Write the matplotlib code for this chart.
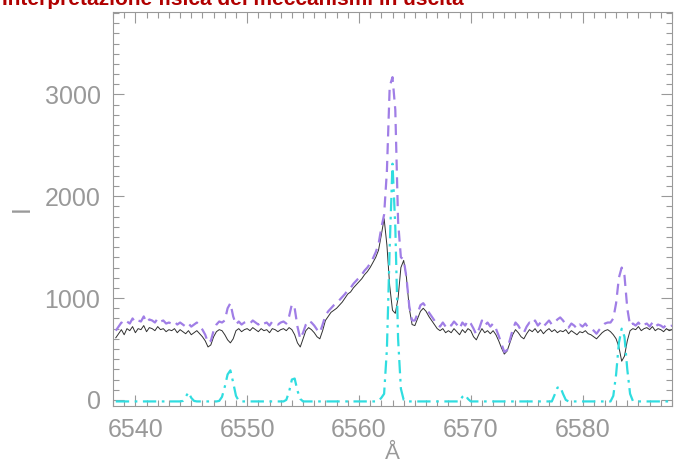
import numpy as np
import matplotlib.pyplot as plt
from matplotlib.ticker import MultipleLocator

# wavelength sampling of the spectrum (0.25 A steps)
wave = np.arange(6538.25, 6588.01, 0.25)

observed = [
    610, 650, 690, 640, 700, 680, 720, 660, 700, 690, 730, 670, 710, 700, 680, 720, 690, 700, 670, 690,
    680, 700, 660, 690, 670, 650, 680, 640, 660, 680, 650, 620, 580, 520, 540, 620, 670, 690, 680, 640,
    590, 560, 600, 680, 700, 670, 690, 700, 680, 710, 690, 670, 700, 680, 690, 660, 700, 690, 670, 690,
    700, 680, 710, 690, 640, 560, 520, 600, 680, 710, 690, 660, 620, 600, 680, 780, 820, 860, 880, 900,
    930, 960, 1000, 1040, 1060, 1100, 1130, 1160, 1190, 1230, 1260, 1300, 1350, 1400, 1470, 1620, 1780, 1520, 1120, 880,
    850, 1000, 1300, 1370, 1200, 900, 740, 730, 800, 870, 900, 870, 820, 780, 740, 700, 680, 700, 660, 680,
    660, 700, 670, 640, 690, 660, 700, 680, 620, 590, 650, 700, 660, 680, 650, 680, 640, 580, 510, 450,
    480, 560, 640, 690, 660, 620, 600, 650, 690, 670, 700, 660, 690, 650, 680, 700, 670, 690, 660, 680,
    670, 690, 650, 680, 660, 640, 670, 660, 680, 650, 640, 620, 600, 630, 660, 680, 690, 670, 640, 600,
    520, 380, 430, 580, 680, 700, 690, 720, 680, 700, 710, 690, 720, 680, 700, 690, 670, 700, 680, 690,
]

model = [
    680, 720, 760, 740, 770, 750, 800, 760, 780, 770, 820, 760, 790, 780, 760, 800, 770, 780, 750, 760,
    750, 770, 740, 760, 740, 720, 750, 720, 740, 760, 720, 690, 640, 560, 580, 680, 740, 770, 760, 780,
    900, 950, 820, 740, 770, 740, 760, 770, 750, 780, 760, 740, 770, 750, 760, 730, 770, 760, 740, 760,
    770, 750, 820, 940, 900, 720, 600, 660, 740, 780, 760, 730, 690, 660, 740, 830, 870, 900, 930, 950,
    980, 1010, 1040, 1080, 1100, 1140, 1170, 1200, 1230, 1270, 1300, 1340, 1390, 1450, 1530, 1690, 1820, 2250, 3080, 3170,
    2850, 1750, 1400, 1380, 1200, 920, 780, 780, 850, 930, 950, 910, 860, 820, 780, 740, 720, 760, 720, 750,
    730, 770, 740, 700, 760, 730, 780, 750, 700, 640, 700, 780, 730, 760, 720, 750, 700, 630, 550, 470,
    490, 590, 690, 760, 730, 680, 660, 720, 760, 740, 780, 730, 760, 720, 750, 780, 740, 760, 790, 810,
    780, 740, 710, 750, 730, 700, 740, 720, 750, 710, 700, 680, 650, 690, 720, 750, 760, 760, 800, 950,
    1200, 1300, 1220, 900, 730, 750, 730, 760, 720, 740, 750, 720, 760, 720, 740, 730, 710, 740, 720, 730,
]

emission = [
    -15, -15, -15, -15, -15, -15, -15, -15, -15, -15, -15, -15, -15, -15, -15, -15, -15, -15, -15, -15,
    -15, -15, -15, -15, -10, 30, 75, 20, -10, -15, -15, -15, -15, -15, -15, -15, -15, -10, 30, 130,
    250, 290, 170, 40, -10, -15, -15, -15, -15, -15, -15, -15, -15, -15, -15, -15, -15, -15, -15, -15,
    -15, 0, 80, 200, 210, 90, 10, -15, -15, -15, -15, -15, -15, -15, -15, -15, -15, -15, -15, -15,
    -15, -15, -15, -15, -15, -15, -15, -15, -15, -15, -15, -15, -15, -15, -10, 20, 60, 500, 1500, 2320,
    1700, 600, 110, 0, -15, -15, -15, -15, -15, -15, -15, -15, -15, -15, -15, -15, -15, -15, -15, -15,
    -15, -15, -15, -15, 30, 50, 10, -15, -15, -15, -15, -15, -15, -15, -15, -15, -15, -15, -15, -15,
    -15, -15, -15, -15, -15, -15, -15, -15, -15, -15, -15, -15, -15, -15, -15, -15, -15, 50, 120, 130,
    60, 0, -15, -15, -15, -15, -15, -15, -15, -15, -15, -15, -15, -15, -15, -15, -15, -15, 40, 250,
    560, 700, 620, 300, 60, -10, -15, -15, -15, -15, -15, -15, -15, -15, -15, -15, -15, -15, -15, -15,
]

grey = '#999999'
plt.rcParams['font.family'] = ['Liberation Sans', 'DejaVu Sans']

fig = plt.figure(figsize=(6.78, 4.65), dpi=100)
ax = fig.add_axes([113 / 678, 1 - 405.5 / 465, (672 - 113) / 678, (405.5 - 12) / 465])

ax.plot(wave, observed, color='#303030', lw=0.7)
ax.plot(wave, model, color='#a07ee6', lw=1.6, ls=(0, (5, 3)))
ax.plot(wave, emission, color='#30dde0', lw=1.6, ls=(0, (6, 2.5, 1.2, 2.5)))

ax.set_xlim(6538, 6588)
ax.set_ylim(-55, 3810)
ax.xaxis.set_major_locator(MultipleLocator(10))
ax.xaxis.set_minor_locator(MultipleLocator(1))
ax.yaxis.set_major_locator(MultipleLocator(1000))
ax.yaxis.set_minor_locator(MultipleLocator(100))
ax.tick_params(which='both', direction='in', top=True, right=True,
               color=grey, labelcolor=grey, labelsize=18, width=0.8)
ax.tick_params(which='major', length=8, pad=9)
ax.tick_params(which='minor', length=4)
for s in ax.spines.values():
    s.set_color(grey)
    s.set_linewidth(0.8)

ax.set_xlabel('Å', color=grey, fontsize=16, labelpad=1)
ax.set_ylabel('I', color=grey, fontsize=18, labelpad=8)

# title sits partly above the top edge, as in the source slide
fig.text(0.003, 1 - 5 / 465, 'Interpretazione fisica dei meccanismi in uscita',
         color='#b00000', fontsize=15, fontweight='bold', va='baseline', ha='left')

fig.savefig('out.png', dpi=100)
